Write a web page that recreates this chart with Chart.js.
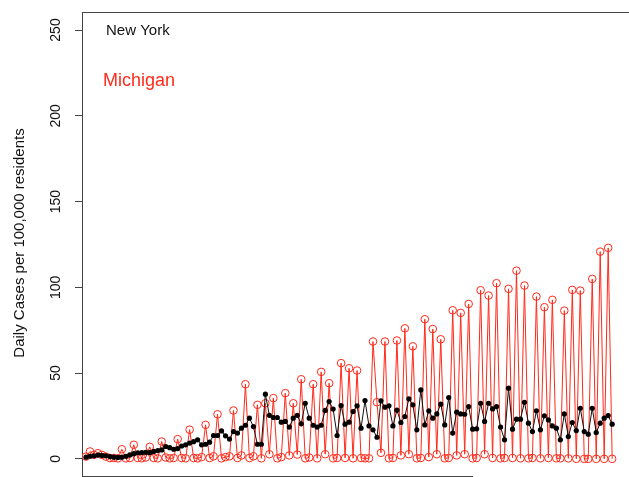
<!DOCTYPE html>
<html>
<head>
<meta charset="utf-8">
<script src="https://cdn.jsdelivr.net/npm/chart.js@4/dist/chart.umd.min.js"></script>
<style>
    html, body { margin: 0; padding: 0; background: #fff; overflow: hidden; }
    #wrap { width: 700px; height: 520px; }
</style>
</head>
<body>
<div id="wrap"><canvas id="casesChart" width="700" height="520"></canvas></div>
<script>
// daily cases per 100,000 residents (one value per day)
const nyCases = [
    1.0, 1.5, 1.8, 2.2, 2.0, 1.8, 1.3, 1.0, 0.8, 1.0,
    1.5, 2.3, 3.0, 3.5, 3.7, 3.8, 3.6, 4.3, 4.8, 5.2,
    7.2, 6.5, 5.6, 6.0, 7.5, 8.2, 9.2, 10.0, 11.1, 8.2,
    8.5, 9.7, 13.6, 13.6, 16.3, 13.4, 11.5, 15.9, 15.0, 17.9,
    19.6, 23.7, 18.8, 8.5, 8.5, 37.7, 25.4, 24.1, 24.1, 21.4,
    21.8, 18.5, 23.7, 25.4, 20.4, 32.4, 23.7, 19.6, 18.5, 19.6,
    28.2, 33.4, 29.0, 13.6, 31.1, 20.2, 21.4, 27.6, 30.9, 17.9,
    34.0, 19.2, 16.9, 12.6, 33.8, 30.1, 30.9, 19.2, 28.4, 21.2,
    24.7, 35.0, 31.5, 16.9, 40.2, 19.8, 28.0, 23.7, 26.2, 31.9,
    19.8, 35.7, 15.0, 27.2, 26.2, 26.0, 30.5, 17.3, 17.5, 32.4,
    21.8, 32.4, 29.1, 30.5, 18.5, 11.1, 41.2, 17.3, 23.1, 23.1,
    33.0, 20.8, 15.9, 28.0, 16.9, 25.1, 22.7, 19.2, 17.9, 11.1,
    26.2, 13.0, 21.2, 16.5, 29.5, 15.9, 14.4, 29.5, 15.3, 20.8,
    23.7, 25.2, 20.2
];

const miCases = [
    1.3, 4.3, 2.3, 3.3, 2.3, 1.3, 0.5, 0.5, 0.3, 5.6,
    0.3, 0.5, 8.2, 0.5, 0.3, 0.8, 7.0, 0.5, 0.3, 10.1,
    0.8, 0.3, 0.5, 11.5, 0.5, 0.3, 17.0, 0.5, 0.3, 1.0,
    19.8, 0.5, 1.5, 26.0, 0.3, 1.0, 1.5, 28.2, 0.5, 2.0,
    43.5, 0.5, 1.5, 31.5, 0.3, 32.4, 2.7, 35.4, 0.3, 1.0,
    38.3, 2.0, 32.4, 2.5, 46.4, 0.3, 0.8, 43.5, 0.3, 50.7,
    2.7, 44.1, 0.3, 0.5, 55.8, 0.5, 52.8, 0.3, 51.5, 0.5,
    0.3, 0.3, 68.4, 33.0, 3.5, 68.4, 0.3, 0.5, 69.0, 2.0,
    76.1, 2.7, 65.6, 0.3, 0.5, 81.4, 1.0, 75.7, 2.7, 69.7,
    0.3, 0.5, 86.6, 2.0, 85.1, 2.7, 90.3, 0.3, 0.5, 98.3,
    2.7, 95.2, 0.5, 102.4, 0.3, 0.5, 99.1, 0.5, 109.7, 0.3,
    101.0, 0.3, 0.5, 94.6, 0.3, 88.4, 0.5, 92.7, 0.3, 0.3,
    86.4, 0.3, 98.5, 0.0, 98.1, 0.0, 0.0, 104.9, 0.0, 120.8,
    0.0, 123.0, 0.0
];

const yTicks = [0, 50, 100, 150, 200, 250];
const xTickDays = [4, 35, 66, 97];   // month marks, labels fall below the picture

const FONT = "'Liberation Sans', Arial, Helvetica, sans-serif";
const RED = '#ff2a1a';

function toPoints(values) {
    return values.map((v, i) => ({ x: i, y: v }));
}

// текст, рамка и повёрнутые подписи оси Y в стиле R
const baseGraphics = {
    id: 'baseGraphics',
    afterDraw(chart) {
        const ctx = chart.ctx;
        const area = chart.chartArea;
        const yScale = chart.scales.y;
        const xScale = chart.scales.x;

        ctx.save();
        ctx.strokeStyle = '#444';
        ctx.lineWidth = 1;

        // top of the box
        ctx.beginPath();
        ctx.moveTo(area.left, area.top + 0.5);
        ctx.lineTo(chart.width, area.top + 0.5);
        ctx.stroke();

        // bottom axis line, only up to the last tick
        ctx.beginPath();
        ctx.moveTo(area.left, area.bottom + 0.5);
        ctx.lineTo(xScale.getPixelForValue(xTickDays[xTickDays.length - 1]), area.bottom + 0.5);
        ctx.stroke();

        // y tick labels, rotated
        ctx.fillStyle = '#111';
        ctx.font = '14px ' + FONT;
        ctx.textAlign = 'center';
        ctx.textBaseline = 'middle';
        yTicks.forEach(v => {
            const y = yScale.getPixelForValue(v);
            ctx.save();
            ctx.translate(56, y);
            ctx.rotate(-Math.PI / 2);
            ctx.fillText(String(v), 0, 0);
            ctx.restore();
        });

        // y title
        ctx.save();
        ctx.font = '15px ' + FONT;
        ctx.translate(20, 243);
        ctx.rotate(-Math.PI / 2);
        ctx.fillText('Daily Cases per 100,000 residents', 0, 0);
        ctx.restore();

        // legend as plain text
        ctx.textAlign = 'left';
        ctx.font = '15px ' + FONT;
        ctx.fillStyle = '#111';
        ctx.fillText('New York', 106, 31);
        ctx.font = '18px ' + FONT;
        ctx.fillStyle = RED;
        ctx.fillText('Michigan', 103, 81);

        ctx.restore();
    }
};

const chart = new Chart(document.getElementById('casesChart'), {
    type: 'line',
    data: {
        datasets: [
            {
                label: 'New York',
                data: toPoints(nyCases),
                borderColor: '#111',
                backgroundColor: '#000',
                borderWidth: 1,
                pointRadius: 2.6,
                pointBorderWidth: 0,
                pointBackgroundColor: '#000',
                tension: 0
            },
            {
                label: 'Michigan',
                data: toPoints(miCases),
                borderColor: RED,
                backgroundColor: 'rgba(0,0,0,0)',
                borderWidth: 1,
                pointRadius: 3.8,
                pointBorderWidth: 1,
                pointBorderColor: RED,
                pointBackgroundColor: 'rgba(0,0,0,0)',
                tension: 0
            }
        ]
    },
    options: {
        responsive: false,
        animation: false,
        layout: { padding: { left: 0, top: 12, right: 40, bottom: 0 } },
        plugins: {
            legend: { display: false },
            tooltip: { enabled: false }
        },
        scales: {
            x: {
                type: 'linear',
                min: -1,
                max: 144,
                afterBuildTicks: scale => { scale.ticks = xTickDays.map(v => ({ value: v })); },
                afterFit: scale => { scale.height = 44; },
                ticks: { display: false },
                grid: { drawOnChartArea: false, drawTicks: true, tickLength: 6, color: '#444' },
                border: { display: false }
            },
            y: {
                min: -10,
                max: 260.5,
                afterBuildTicks: scale => { scale.ticks = yTicks.map(v => ({ value: v })); },
                afterFit: scale => { scale.width = 82; },
                ticks: { display: false },
                grid: { drawOnChartArea: false, drawTicks: true, tickLength: 7, color: '#444' },
                border: { display: true, color: '#444', width: 1 }
            }
        }
    },
    plugins: [baseGraphics]
});
</script>
</body>
</html>
